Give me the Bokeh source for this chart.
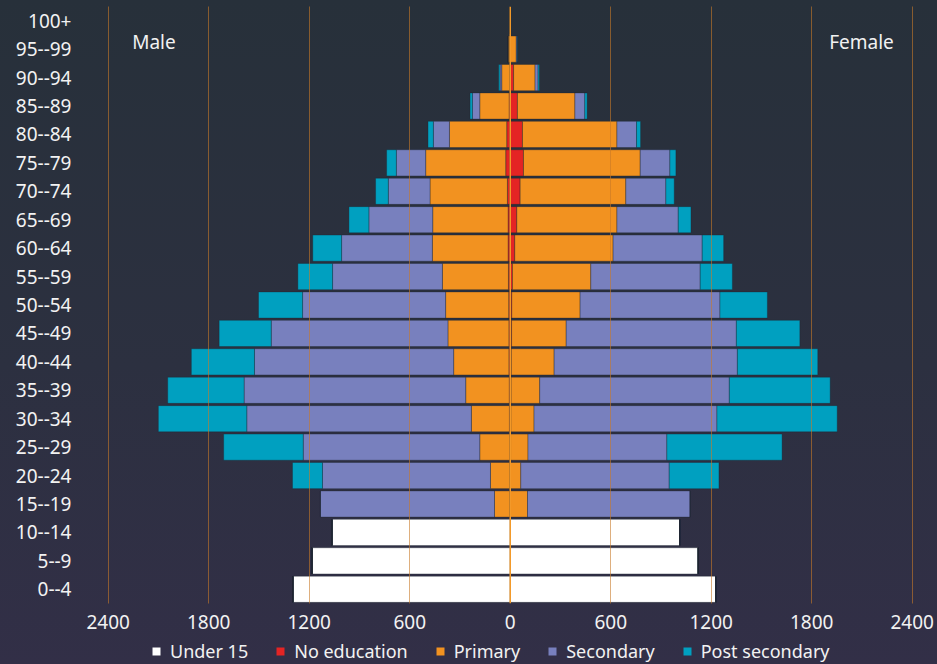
from bokeh.plotting import figure
from bokeh.layouts import column
from bokeh.models import (ColumnDataSource, FactorRange, Range1d, FixedTicker, CustomJSTickFormatter,
                          Span, Label, Legend, LegendItem)
from bokeh.embed import file_html
from bokeh.resources import INLINE

ages = ["0--4", "5--9", "10--14", "15--19", "20--24", "25--29", "30--34", "35--39",
        "40--44", "45--49", "50--54", "55--59", "60--64", "65--69", "70--74", "75--79",
        "80--84", "85--89", "90--94", "95--99", "100+"]

categories = ["Under 15", "No education", "Primary", "Secondary", "Post secondary"]
colors = ["#ffffff", "#e42424", "#f29220", "#7880be", "#00a0c0"]

male_under15 = [1296, 1182, 1063, 0, 0, 0, 0, 0, 0, 0, 0, 0, 0, 0, 0, 0, 0, 0, 0, 0, 0]
male_noedu = [0, 0, 0, 0, 0, 2, 5, 6, 8, 8, 9, 11, 13, 13, 17, 27, 21, 7, 2, 0, 0]
male_primary = [0, 0, 0, 94, 118, 180, 227, 260, 330, 364, 377, 394, 452, 450, 462, 478, 342, 175, 49, 13, 0]
male_secondary = [0, 0, 0, 1039, 1003, 1054, 1341, 1323, 1189, 1055, 854, 656, 542, 381, 249, 175, 96, 44, 10, 0, 0]
male_post = [0, 0, 0, 0, 179, 475, 528, 456, 377, 311, 263, 207, 172, 119, 76, 58, 32, 14, 8, 0, 0]

female_under15 = [1226, 1121, 1011, 0, 0, 0, 0, 0, 0, 0, 0, 0, 0, 0, 0, 0, 0, 0, 0, 0, 0]
female_noedu = [0, 0, 0, 0, 0, 2, 4, 5, 6, 8, 9, 13, 27, 39, 59, 79, 73, 43, 20, 0, 0]
female_primary = [0, 0, 0, 103, 63, 104, 138, 171, 256, 326, 408, 468, 587, 598, 631, 697, 564, 343, 128, 36, 0]
female_secondary = [0, 0, 0, 970, 886, 829, 1092, 1132, 1094, 1016, 835, 653, 532, 366, 239, 177, 117, 59, 18, 5, 0]
female_post = [0, 0, 0, 0, 297, 688, 718, 602, 480, 379, 283, 192, 128, 76, 50, 36, 24, 14, 8, 2, 0]

x_ticks = [-2400, -1800, -1200, -600, 0, 600, 1200, 1800, 2400]

FONT = "Noto Sans"
TXT = "#f2f2f2"

male_cols = ["m_u15", "m_none", "m_prim", "m_sec", "m_post"]
female_cols = ["f_u15", "f_none", "f_prim", "f_sec", "f_post"]
data = {"age": ages}
for c, vals in zip(male_cols, [male_under15, male_noedu, male_primary, male_secondary, male_post]):
    data[c] = [-v for v in vals]
for c, vals in zip(female_cols, [female_under15, female_noedu, female_primary, female_secondary, female_post]):
    data[c] = list(vals)
source = ColumnDataSource(data)

# ---- main pyramid ----
p = figure(width=937, height=638, output_backend="svg", toolbar_location=None,
           y_range=FactorRange(factors=ages, range_padding=0), x_range=(-2500, 2503),
           min_border_left=91, min_border_right=8, min_border_top=6, min_border_bottom=35)
p.title.visible = False
p.background_fill_alpha = 0
p.border_fill_alpha = 0
p.outline_line_color = None

bar_kw = dict(y="age", height=0.92, source=source, line_color="#1c2430", line_alpha=0.35, line_width=1)
m_rends = p.hbar_stack(male_cols, color=colors, **bar_kw)
f_rends = p.hbar_stack(female_cols, color=colors, **bar_kw)

p.ygrid.grid_line_color = None
p.xgrid.ticker = FixedTicker(ticks=[t for t in x_ticks if t != 0])
p.xgrid.grid_line_color = "#c87a28"
p.xgrid.grid_line_alpha = 0.6
p.xgrid.level = "overlay"
p.add_layout(Span(location=0, dimension="height", line_color="#f39a2a", line_width=1.5, level="overlay"))

p.xaxis.ticker = FixedTicker(ticks=x_ticks)
p.xaxis.formatter = CustomJSTickFormatter(code="return Math.abs(tick).toString();")
for ax in (p.xaxis[0], p.yaxis[0]):
    ax.axis_line_color = None
    ax.major_tick_line_color = None
    ax.minor_tick_line_color = None
    ax.major_tick_out = 0
    ax.major_tick_in = 0
    ax.major_label_text_color = TXT
    ax.major_label_text_font = FONT
    ax.major_label_text_font_size = "19px"
p.xaxis.major_label_standoff = 11
p.yaxis.major_label_standoff = 20

p.add_layout(Label(x=-2257, y=19.76, text="Male", text_color=TXT, text_font=FONT,
                   text_font_size="19px", text_align="left", text_baseline="middle"))
p.add_layout(Label(x=2290, y=19.76, text="Female", text_color=TXT, text_font=FONT,
                   text_font_size="19px", text_align="right", text_baseline="middle"))

# ---- legend strip (swatch renderers use the same data, drawn outside this strip's view) ----
lg = figure(width=937, height=26, output_backend="svg", toolbar_location=None,
            x_axis_type=None, y_axis_type=None,
            y_range=FactorRange(factors=ages), x_range=Range1d(5000, 6000),
            min_border_left=91, min_border_right=8, min_border_top=0, min_border_bottom=0)
lg.title.visible = False
lg.background_fill_alpha = 0
lg.border_fill_alpha = 0
lg.outline_line_color = None
lg.xgrid.visible = False
lg.ygrid.visible = False
swatches = lg.hbar_stack(female_cols, y="age", height=0, source=source, color=colors, line_color=None)

legend = Legend(items=[LegendItem(label=lab, renderers=[r]) for lab, r in zip(categories, swatches)],
                location=(60, 0), orientation="horizontal",
                background_fill_alpha=0, border_line_color=None,
                label_text_color=TXT, label_text_font=FONT, label_text_font_size="18px",
                glyph_width=10, glyph_height=10, label_standoff=9, spacing=27,
                padding=0, margin=0, label_height=26)
lg.add_layout(legend)

page = column(p, lg, spacing=0,
              styles={"background-image": "linear-gradient(180deg, #27303a 0%, #2c3040 55%, #322f47 100%)"})

open("out.html", "w").write(file_html(page, INLINE))
